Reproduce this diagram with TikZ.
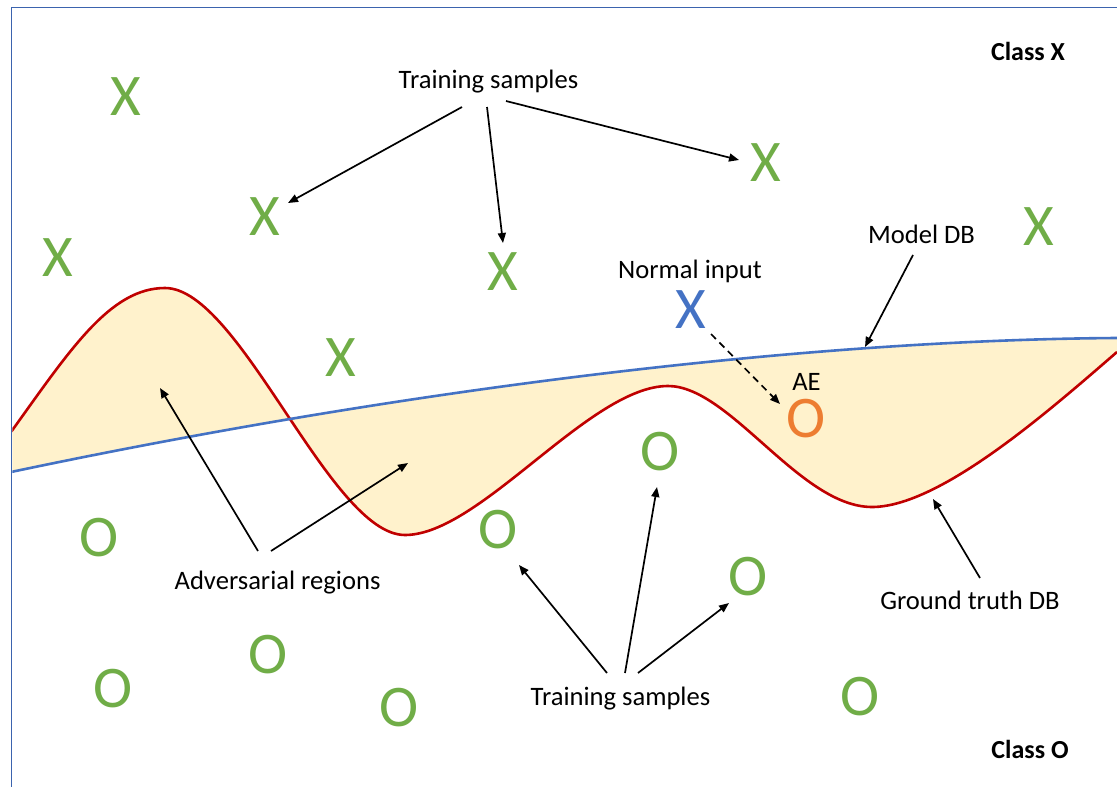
\documentclass[tikz,border=0pt]{standalone}
\usepackage{fontspec}
\setmainfont{Carlito}
\usetikzlibrary{arrows.meta,calc}
\definecolor{grn}{HTML}{70AD47}
\definecolor{bluec}{HTML}{4472C4}
\definecolor{orng}{HTML}{ED7D31}
\definecolor{redc}{HTML}{C00000}
\definecolor{fillc}{HTML}{FFF2CC}
\definecolor{framec}{HTML}{3B63AE}
\begin{document}
\begin{tikzpicture}[x=1pt,y=-1pt,
  pt/.style={inner sep=0pt, font=\fontsize{59}{60}\selectfont, text=grn},
  lbl/.style={inner sep=0pt, anchor=base, font=\fontsize{26.6}{30}\selectfont},
  cls/.style={inner sep=0pt, anchor=base, font=\fontsize{26}{30}\selectfont\bfseries},
  arr/.style={line width=1.7pt, -{Triangle[length=10pt,width=8pt]}},
  darr/.style={arr, dash pattern=on 7pt off 5pt},
  curve/.style={line width=2.6pt}
]
\useasboundingbox (0,0) rectangle (1117,787);
\fill[white] (0,0) rectangle (1117,787);
% frame
\draw[framec, line width=1.5pt] (11.5,787) -- (11.5,7.5) -- (1117,7.5);

\begin{scope}
\clip (12.3,8.3) rectangle (1117,787);
% adversarial region fill
\fill[fillc] (11,432) .. controls (70,350) and (110,288) .. (165,288)
  .. controls (240,288) and (330,535) .. (405,535)
  .. controls (480,535) and (590,386) .. (668,386)
  .. controls (730,386) and (800,507) .. (872,507)
  .. controls (940,507) and (1050,410) .. (1117,352)
  -- (1117,338) .. controls (800,340) and (400,390) .. (11,472) -- cycle;
% ground truth DB
\draw[redc, curve] (11,432) .. controls (70,350) and (110,288) .. (165,288)
  .. controls (240,288) and (330,535) .. (405,535)
  .. controls (480,535) and (590,386) .. (668,386)
  .. controls (730,386) and (800,507) .. (872,507)
  .. controls (940,507) and (1050,410) .. (1117,352);
% model DB
\draw[bluec, curve] (11,472) .. controls (400,390) and (800,340) .. (1117,338);
\end{scope}

% class X samples
\node[pt] (x1) at (126,97) {X};
\node[pt] (x2) at (265,217) {X};
\node[pt] (x3) at (58,258) {X};
\node[pt] (x4) at (503,272) {X};
\node[pt] (x5) at (766,163) {X};
\node[pt] (x6) at (1039,227) {X};
\node[pt] (x7) at (341,358) {X};
\node[pt, text=bluec] (xn) at (691,310) {X};
\node[pt, text=orng] (ae) at (806,419) {O};
% class O samples
\node[pt] (o1) at (99,538) {O};
\node[pt] (o2) at (498,530) {O};
\node[pt] (o3) at (660,452) {O};
\node[pt] (o4) at (748,577) {O};
\node[pt] (o5) at (268,655) {O};
\node[pt] (o6) at (113,689) {O};
\node[pt] (o7) at (399,708) {O};
\node[pt] (o8) at (860,697) {O};

% labels
\node[lbl] (ts1) at (488.5,88) {Training samples};
\node[lbl] (ts2) at (620.5,705) {Training samples};
\node[lbl] (mdb) at (921.5,243) {Model DB};
\node[lbl] (ni) at (690,278) {Normal input};
\node[lbl] (aelbl) at (806.5,390) {AE};
\node[lbl] (adv) at (277.5,589) {Adversarial regions};
\node[lbl] (gt) at (970,609) {Ground truth DB};
\node[cls] (cx) at (1028,60) {Class X};
\node[cls] (co) at (1030,758) {Class O};

% free ends on curves / regions
\coordinate (mdbtip) at (865,347);
\coordinate (advA) at (160,388);
\coordinate (advB) at (408,463);
\coordinate (gttip) at (933,499);

% arrows
\draw[arr] ($(ts1.base)+(-26.5,19)$) -- ($(x2)+(23,-14)$);
\draw[arr] ($(ts1.base)+(-1.5,19)$) -- ($(x4)+(0,-29)$);
\draw[arr] ($(ts1.base)+(17.5,13)$) -- ($(x5)+(-27,-3)$);
\draw[arr] ($(mdb.base)+(-8.5,12)$) -- (mdbtip);
\draw[darr] ($(xn)+(20,24)$) -- ($(ae)+(-26,-15)$);
\draw[arr] ($(adv.base)+(-19.5,-38)$) -- (advA);
\draw[arr] ($(adv.base)+(-6.5,-38)$) -- (advB);
\draw[arr] ($(gt.base)+(10,-31)$) -- (gttip);
\draw[arr] ($(ts2.base)+(-13.5,-32)$) -- ($(o2)+(21,35)$);
\draw[arr] ($(ts2.base)+(4.5,-32)$) -- ($(o3)+(-3,35)$);
\draw[arr] ($(ts2.base)+(17.5,-32)$) -- ($(o4)+(-19,26)$);
\end{tikzpicture}
\end{document}
